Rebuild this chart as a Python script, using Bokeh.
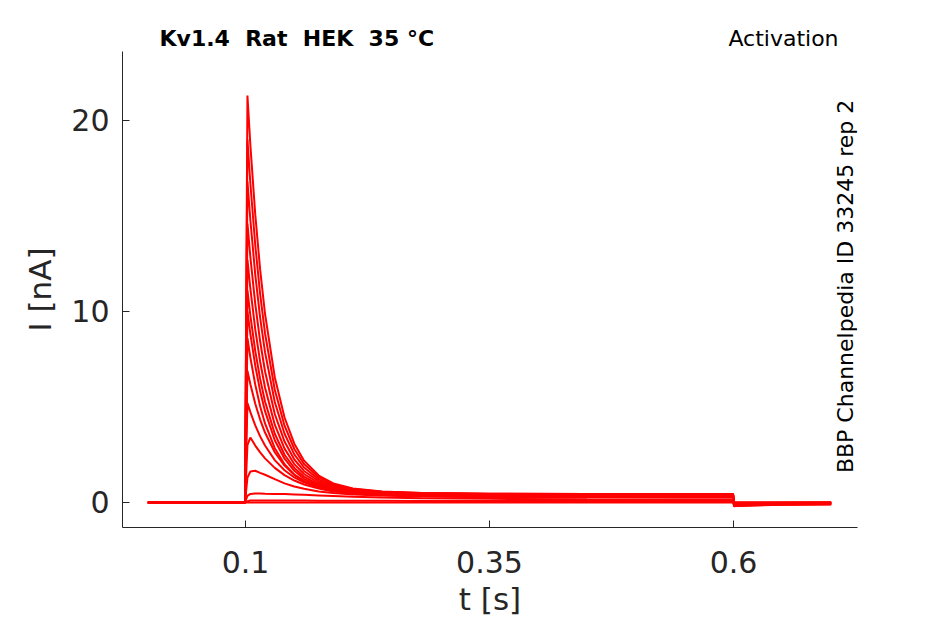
import math
from bokeh.plotting import figure
from bokeh.layouts import column
from bokeh.models import Range1d, FixedTicker, ColumnDataSource
from bokeh.core.properties import value
from bokeh.embed import file_html
from bokeh.resources import INLINE

# ---------------- data ----------------
t_s = [0.0, 0.0995, 0.102, 0.105, 0.11, 0.115, 0.12, 0.13, 0.14, 0.15, 0.16, 0.175,
       0.19, 0.21, 0.24, 0.28, 0.35, 0.45, 0.55, 0.5995, 0.6005, 0.603, 0.65, 0.7]

trace_01 = [0.0, 0.0, 21.3, 18.71, 15.08, 12.20, 9.88, 6.56, 4.45, 3.08, 2.19, 1.41, 1.00, 0.73, 0.57, 0.49, 0.46, 0.45, 0.45, 0.45, -0.20, -0.18, -0.12, -0.10]
trace_02 = [0.0, 0.0, 19.0, 16.70, 13.48, 10.91, 8.86, 5.90, 4.02, 2.80, 2.01, 1.32, 0.95, 0.71, 0.56, 0.49, 0.46, 0.45, 0.44, 0.44, -0.19, -0.17, -0.11, -0.09]
trace_03 = [0.0, 0.0, 16.8, 14.78, 11.93, 9.68, 7.87, 5.26, 3.60, 2.52, 1.83, 1.21, 0.89, 0.67, 0.54, 0.48, 0.45, 0.44, 0.43, 0.43, -0.18, -0.16, -0.10, -0.08]
trace_04 = [0.0, 0.0, 14.6, 12.85, 10.40, 8.44, 6.87, 4.63, 3.19, 2.25, 1.65, 1.11, 0.83, 0.64, 0.52, 0.46, 0.44, 0.43, 0.42, 0.42, -0.17, -0.15, -0.09, -0.07]
trace_05 = [0.0, 0.0, 12.7, 11.19, 9.06, 7.37, 6.02, 4.07, 2.82, 2.01, 1.49, 1.02, 0.77, 0.61, 0.50, 0.45, 0.43, 0.42, 0.41, 0.41, -0.16, -0.14, -0.08, -0.06]
trace_06 = [0.0, 0.0, 11.1, 9.78, 7.94, 6.47, 5.29, 3.60, 2.50, 1.81, 1.35, 0.94, 0.72, 0.58, 0.48, 0.44, 0.42, 0.41, 0.40, 0.40, -0.15, -0.13, -0.08, -0.06]
trace_07 = [0.0, 0.0, 10.0, 8.82, 7.16, 5.84, 4.78, 3.26, 2.29, 1.66, 1.24, 0.88, 0.68, 0.55, 0.47, 0.43, 0.41, 0.40, 0.39, 0.39, -0.14, -0.12, -0.07, -0.05]
trace_08 = [0.0, 0.0, 8.6, 7.59, 6.17, 5.04, 4.14, 2.84, 2.00, 1.46, 1.11, 0.79, 0.63, 0.51, 0.44, 0.40, 0.39, 0.38, 0.37, 0.37, -0.13, -0.11, -0.06, -0.05]
trace_09 = [0.0, 0.0, 6.9, 6.19, 5.17, 4.34, 3.66, 2.63, 1.93, 1.45, 1.13, 0.82, 0.65, 0.51, 0.43, 0.38, 0.37, 0.36, 0.35, 0.35, -0.12, -0.10, -0.06, -0.04]
trace_10 = [0.0, 0.0, 5.2, 4.73, 4.04, 3.46, 2.98, 2.22, 1.69, 1.31, 1.05, 0.78, 0.61, 0.49, 0.40, 0.35, 0.34, 0.33, 0.32, 0.32, -0.10, -0.08, -0.04, -0.03]
trace_11 = [0.0, 0.0, 3.0, 3.40, 2.98, 2.62, 2.31, 1.81, 1.43, 1.15, 0.94, 0.73, 0.58, 0.47, 0.38, 0.32, 0.31, 0.30, 0.30, 0.30, -0.08, -0.06, -0.03, -0.02]
trace_12 = [0.0, 0.0, 1.3, 1.62, 1.66, 1.55, 1.45, 1.22, 1.00, 0.84, 0.72, 0.58, 0.49, 0.42, 0.36, 0.31, 0.28, 0.27, 0.26, 0.26, -0.05, -0.04, -0.02, -0.01]
trace_13 = [0.0, 0.0, 0.35, 0.45, 0.47, 0.47, 0.46, 0.45, 0.44, 0.42, 0.40, 0.37, 0.34, 0.30, 0.26, 0.22, 0.19, 0.17, 0.16, 0.16, -0.02, -0.02, -0.01, 0.0]
trace_14 = [0.0, 0.0, 0.06, 0.10, 0.10, 0.10, 0.10, 0.10, 0.10, 0.10, 0.10, 0.09, 0.09, 0.09, 0.09, 0.08, 0.08, 0.08, 0.08, 0.08, 0.0, 0.0, 0.0, 0.0]
trace_15 = [0.0, 0.0, 0.0, 0.0, 0.0, 0.0, 0.0, 0.0, 0.0, 0.0, 0.0, 0.0, 0.0, 0.0, 0.0, 0.0, 0.0, 0.0, 0.0, 0.0, 0.0, 0.0, 0.0, 0.0]

traces = [trace_15, trace_14, trace_13, trace_12, trace_11, trace_10, trace_09, trace_08,
          trace_07, trace_06, trace_05, trace_04, trace_03, trace_02, trace_01]

x_ticks = [0.1, 0.35, 0.6]
x_tick_labels = {0.1: "0.1", 0.35: "0.35", 0.6: "0.6"}
y_ticks = [0, 10, 20]

title_text = "Kv1.4 \u00a0Rat \u00a0HEK \u00a035 °C"
protocol_text = "Activation"
side_text = "BBP Channelpedia ID 33245 rep 2"
x_label = "t [s]"
y_label = "I [nA]"

# ---------------- layout constants ----------------
FONT = "DejaVu Sans"
AX = "#262626"
FRAME_W = 735
HEAD_H = 51
FRAME_H = 476
LEFT = 122
RIGHT = 80

x_rng = Range1d(-0.026, 0.727)

# ---------------- header strip (texts above the axes) ----------------
head = figure(frame_width=FRAME_W, frame_height=HEAD_H, output_backend="svg", toolbar_location=None,
              x_range=x_rng, y_range=Range1d(0, HEAD_H),
              x_axis_location=None, y_axis_location=None,
              min_border_left=LEFT, min_border_right=RIGHT, min_border_top=0, min_border_bottom=0)
head.outline_line_color = None
head.grid.visible = False

head.text(x=[0.0119], y=[13.3], text=[title_text], text_font=value(FONT), text_font_size="22px",
          text_font_style="bold", text_color="black", text_align="left", text_baseline="alphabetic")
head.text(x=[0.7076], y=[13.3], text=[protocol_text], text_font=value(FONT), text_font_size="22px",
          text_color="black", text_align="right", text_baseline="alphabetic")

# ---------------- main axes ----------------
p = figure(frame_width=FRAME_W, frame_height=FRAME_H, output_backend="svg", toolbar_location=None,
           x_range=x_rng, y_range=Range1d(-1.31, 23.61),
           min_border_left=LEFT, min_border_right=RIGHT, min_border_top=0, min_border_bottom=0)
p.outline_line_color = None
p.grid.visible = False

for tr in traces:
    p.line(t_s, tr, line_color="#ff0000", line_width=2)

xa = p.xaxis[0]
xa.ticker = FixedTicker(ticks=x_ticks)
xa.major_label_overrides = x_tick_labels
ya = p.yaxis[0]
ya.ticker = FixedTicker(ticks=y_ticks)

for ax in (xa, ya):
    ax.axis_line_color = AX
    ax.axis_line_width = 1
    ax.major_tick_line_color = AX
    ax.major_tick_in = 7
    ax.major_tick_out = 0
    ax.minor_tick_line_color = None
    ax.major_label_text_font = FONT
    ax.major_label_text_font_size = "30px"
    ax.major_label_text_color = AX
    ax.axis_label_text_font = FONT
    ax.axis_label_text_font_size = "31px"
    ax.axis_label_text_font_style = "normal"
    ax.axis_label_text_color = AX

xa.axis_label = x_label
ya.axis_label = y_label
ya.major_label_text_align = "right"
xa.major_label_standoff = 23
ya.major_label_standoff = 13
xa.axis_label_standoff = 5
ya.axis_label_standoff = 10

side_src = ColumnDataSource(dict(x=[0.7148], y=[11.31], text=[side_text]))
p.text(x="x", y="y", text="text", source=side_src, text_font=value(FONT), text_font_size="22px",
       text_color="black", text_align="center", text_baseline="middle", angle=math.pi / 2)

open("out.html", "w").write(file_html(column(head, p, spacing=0), INLINE))
